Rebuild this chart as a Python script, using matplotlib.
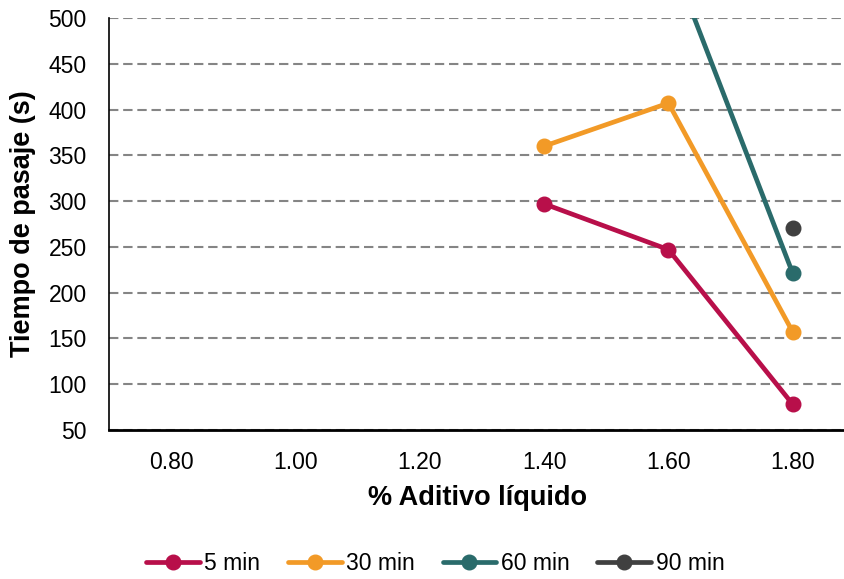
import matplotlib.pyplot as plt
import numpy as np

# % aditivo liquido (categorias del eje x)
aditivo = ['0.80', '1.00', '1.20', '1.40', '1.60', '1.80']

# tiempo de pasaje [s] por tiempo de reposo; nan = sin dato
t_5min = [np.nan, np.nan, np.nan, 297, 247, 78]
t_30min = [np.nan, np.nan, np.nan, 360, 407, 157]
t_60min = [np.nan, np.nan, np.nan, np.nan, 573, 221]
t_90min = [np.nan, np.nan, np.nan, np.nan, np.nan, 271]

series = ['5 min', '30 min', '60 min', '90 min']
colores = ['#B80F4A', '#F29A27', '#2A6B6B', '#404040']

plt.rcParams['font.family'] = ['Liberation Sans', 'DejaVu Sans']

fig = plt.figure(figsize=(8.45, 5.79), dpi=100)
ax = fig.add_axes([0.129, 0.2573, 0.871, 0.7117])

x = np.arange(len(aditivo))
for nombre, y, c in zip(series, [t_5min, t_30min, t_60min, t_90min], colores):
    ax.plot(x, y, color=c, lw=3.4, marker='o', ms=10.5, label=nombre,
            solid_capstyle='round')

ax.set_xlim(-0.5, 5.42)
ax.set_ylim(50, 500)
ax.set_yticks(np.arange(50, 501, 50))
ax.set_xticks(x)
ax.set_xticklabels(aditivo)
ax.tick_params(axis='y', length=0, pad=16, labelsize=16.5)
ax.tick_params(axis='x', length=0, pad=15, labelsize=16.5)

ax.yaxis.grid(True, color='#858585', ls=(0, (4.5, 2.3)), lw=1.5)
ax.set_axisbelow(True)
for s in ['top', 'right']:
    ax.spines[s].set_visible(False)
ax.spines['left'].set_linewidth(1.2)
ax.spines['bottom'].set_linewidth(2)

ax.set_xlabel('% Aditivo líquido', fontsize=19.5, fontweight='bold', labelpad=8)
ax.set_ylabel('Tiempo de pasaje (s)', fontsize=19.5, fontweight='bold', labelpad=9)

fig.legend(loc='center', bbox_to_anchor=(0.515, 0.026), ncol=4, frameon=False,
           fontsize=16.5, handlelength=2.35, handletextpad=0.2, columnspacing=1.2)

fig.savefig('out.png', dpi=100)
